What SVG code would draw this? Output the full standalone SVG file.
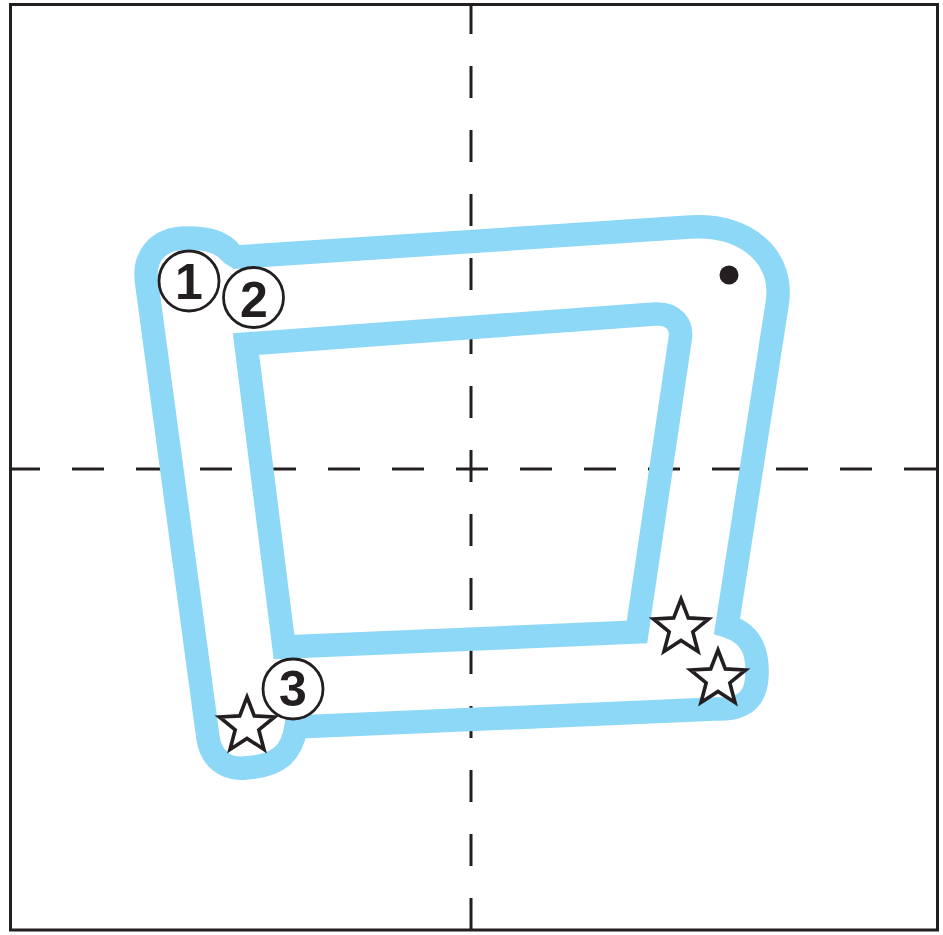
<svg xmlns="http://www.w3.org/2000/svg" width="943" height="935" viewBox="0 0 943 935">
<style>
.frame{fill:none;stroke:#231f20;stroke-width:3}
.guide{fill:none;stroke:#231f20;stroke-width:3;stroke-dasharray:32 32;stroke-dashoffset:2}
.stroke{fill:none;stroke:#8ed8f7;stroke-width:23.5;stroke-linejoin:miter;stroke-miterlimit:10}
.num circle{fill:#fff;stroke:#231f20;stroke-width:2.8}
.num text{font-family:"Liberation Sans",Arial,sans-serif;font-weight:bold;font-size:50px;fill:#231f20;text-anchor:middle}
.star{fill:#fff;stroke:#231f20;stroke-width:3.6;stroke-linejoin:miter}
</style>
<defs>
<polygon id="starShape" points="0,-29 7.3,-10.1 27.6,-9 11.8,3.8 17,23.5 0,12.4 -17,23.5 -11.8,3.8 -27.6,-9 -7.3,-10.1"/>
</defs>
<rect width="943" height="935" fill="#fff"/>
<g id="frame">
<rect class="frame" x="10.5" y="4.5" width="927" height="925.5"/>
<line class="guide" x1="10" y1="469" x2="937" y2="469"/>
<line class="guide" x1="471" y1="4" x2="471" y2="930"/>
</g>
<g id="connectors">
<path id="outer" class="stroke" d="M 237,257 L 690,227 C 748,224 785,258 777,305 L 727,626 C 752,634 758,652 757,675 C 756,700 744,710 715,709 L 296,727 C 292,752 280,766 245,768 C 225,770 211,758 208,738 L 147,285 C 142,256 158,238 187,238 C 208,238 222,242 232,254 Z"/>
<path id="inner" class="stroke" d="M 246,344 L 655,314 C 674,313 683,325 680,340 L 637,632 L 284,647 Z"/>
</g>
<g id="n1" class="num"><circle cx="189" cy="281" r="30"/><text x="189" y="299">1</text></g>
<g id="n2" class="num"><circle cx="253.5" cy="297.5" r="30"/><text x="254" y="317">2</text></g>
<g id="n3" class="num"><circle cx="293" cy="689" r="30"/><text x="293" y="706">3</text></g>
<g id="star1"><use href="#starShape" class="star" transform="translate(247,726)"/></g>
<g id="star2"><use href="#starShape" class="star" transform="translate(681,628)"/></g>
<g id="star3"><use href="#starShape" class="star" transform="translate(718,679)"/></g>
<g id="dot"><circle cx="729" cy="275" r="9.5" fill="#231f20"/></g>
</svg>
